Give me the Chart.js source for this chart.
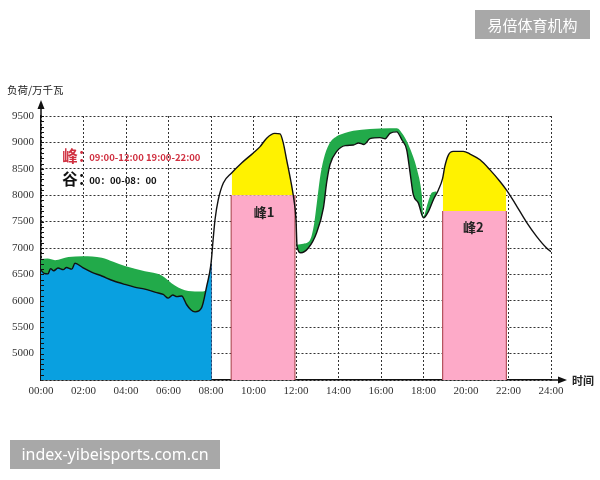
<!DOCTYPE html>
<html>
<head>
<meta charset="utf-8">
<script src="https://cdn.jsdelivr.net/npm/chart.js@4/dist/chart.umd.min.js"></script>
<style>
  html, body { margin: 0; padding: 0; background: #fff; }
  #wrap { width: 600px; height: 480px; position: relative; }
</style>
</head>
<body>
<div id="wrap"><canvas id="loadCanvas"></canvas></div>
<script>
// load curve, hours -> 万千瓦
const hours = [0, 0.15, 0.33, 0.45, 0.6, 0.8, 1.05, 1.2, 1.45, 1.6, 1.96, 2.4, 2.86, 3.4, 3.95, 4.4, 4.89, 5.4, 5.75, 5.99,
  6.2, 6.4, 6.62, 6.85, 7.05, 7.25, 7.56, 7.8, 8.0, 8.1, 8.19, 8.34, 8.58, 8.97, 9.44, 9.99, 10.31, 10.62, 11.0, 11.25,
  11.4, 11.56, 11.8, 11.9, 12.0, 12.05, 12.23, 12.58, 12.97, 13.29, 13.45, 13.6, 13.92, 14.31, 14.7, 14.94, 15.2, 15.48,
  15.95, 16.2, 16.42, 16.74, 16.98, 17.21, 17.36, 17.52, 17.76, 18.0, 18.23, 18.47, 18.7, 18.9, 19.0, 19.17, 19.4, 19.87,
  20.19, 20.66, 21.13, 21.6, 21.9, 22.3, 22.86, 23.32, 23.79, 24.0];
const load = [6580, 6520, 6510, 6610, 6570, 6620, 6590, 6630, 6600, 6710, 6630, 6540, 6470, 6380, 6310, 6260, 6220, 6160, 6120, 6050,
  6110, 6080, 6090, 5930, 5830, 5790, 5870, 6280, 6700, 7160, 7540, 7910, 8230, 8420, 8610, 8800, 8920, 9080, 9170, 9160,
  8990, 8670, 8170, 7920, 7540, 7030, 6910, 7000, 7290, 7760, 8260, 8580, 8830, 8940, 8950, 8990, 8960, 9070,
  9090, 9070, 9170, 9200, 9050, 8860, 8450, 8010, 7850, 7570, 7690, 7920, 8100, 8320, 8540, 8760, 8830, 8830,
  8780, 8670, 8480, 8260, 8100, 7850, 7480, 7220, 7000, 6930];

// green band above the curve in the valley hours
const valleyTopHours = [0, 0.3, 0.66, 1.29, 1.96, 2.86, 3.4, 3.95, 4.89, 5.68, 6.3, 6.93, 7.56, 7.85];
const valleyTop = [6790, 6800, 6770, 6830, 6845, 6815, 6740, 6660, 6560, 6480, 6290, 6185, 6175, 6200];

// green band above the curve in the afternoon
const dayTopHours = [12.05, 12.35, 12.66, 12.85, 12.98, 13.12, 13.3, 13.55, 13.9, 14.3, 14.7, 15.48, 16.42, 16.74, 17.05, 17.36,
  17.68, 17.92, 18.0, 18.2, 18.4, 18.62];
const dayTop = [7060, 7080, 7150, 7450, 7850, 8300, 8680, 8960, 9110, 9180, 9220, 9255, 9270, 9270, 9140, 8890,
  8510, 8010, 7600, 7850, 8050, 8070];

const valleyEnd = 8;
const peakStart = [8.95, 18.9];
const peakEnd = [11.95, 21.9];
const peakBase = [8000, 7700];
const peakNames = ["峰1", "峰2"];
const peakLabelX = [10.5, 20.35];
const peakLabelY = [7680, 7390];

const xTickLabels = ["00:00", "02:00", "04:00", "06:00", "08:00", "10:00", "12:00", "14:00", "16:00", "18:00", "20:00", "22:00", "24:00"];
const yMin = 4500, yMax = 9500, yStep = 500;

const toPoints = (xs, ys) => xs.map((x, i) => ({ x: x, y: ys[i] }));
const loadPts = toPoints(hours, load);
const valleyPts = loadPts.filter(p => p.x <= valleyEnd);

const datasets = [
  { // 0: black load line
    data: loadPts, borderColor: "#111", borderWidth: 1.4, fill: false,
    cubicInterpolationMode: "monotone", order: 0
  },
  { // blue valley area
    data: valleyPts, borderWidth: 0, backgroundColor: "#09a0e0", fill: "start",
    cubicInterpolationMode: "monotone", order: 1
  },
  { // blue right edge
    data: [{ x: valleyEnd, y: yMin }, { x: valleyEnd, y: valleyPts[valleyPts.length - 1].y }],
    borderColor: "#1b4f8c", borderWidth: 1.5, fill: false, order: 1
  },
  { // green above valley
    data: toPoints(valleyTopHours, valleyTop), borderWidth: 0, backgroundColor: "#22aa4a",
    fill: "start", cubicInterpolationMode: "monotone", order: 2
  },
  { // green band afternoon, filled to the load line
    data: toPoints(dayTopHours, dayTop), borderWidth: 0, backgroundColor: "#22aa4a",
    fill: { target: 0, above: "#22aa4a", below: "#22aa4a" },
    cubicInterpolationMode: "monotone", order: 2
  }
];

peakStart.forEach((s, i) => {
  const e = peakEnd[i];
  datasets.push({ // yellow above base
    data: loadPts.filter(p => p.x >= s && p.x <= e), borderWidth: 0,
    fill: { target: { value: peakBase[i] }, above: "#fff200", below: "rgba(0,0,0,0)" },
    cubicInterpolationMode: "monotone", order: 3
  });
  datasets.push({ // pink block
    data: [{ x: s, y: yMin }, { x: s, y: peakBase[i] }, { x: e, y: peakBase[i] }, { x: e, y: yMin }],
    backgroundColor: "#fdaac8", borderColor: "#b4505c", borderWidth: 1.2, fill: "start",
    segment: { borderColor: c => c.p0.parsed.y === c.p1.parsed.y ? "rgba(0,0,0,0)" : undefined },
    order: 4
  });
});

const decor = {
  id: "decor",
  afterDraw(chart) {
    const { ctx, chartArea: a, scales: { x, y } } = chart;
    ctx.save();
    // minor ticks on y axis
    ctx.strokeStyle = "#111";
    ctx.lineWidth = 1;
    for (let v = yMin + 100; v <= yMax; v += 100) {
      const py = Math.round(y.getPixelForValue(v)) + 0.5;
      ctx.beginPath();
      ctx.moveTo(a.left, py);
      ctx.lineTo(a.left + 3, py);
      ctx.stroke();
    }
    // y axis arrow
    ctx.lineWidth = 1.5;
    ctx.beginPath();
    ctx.moveTo(a.left, a.top);
    ctx.lineTo(a.left, a.top - 8);
    ctx.stroke();
    ctx.fillStyle = "#111";
    ctx.beginPath();
    ctx.moveTo(a.left, a.top - 16);
    ctx.lineTo(a.left - 3.5, a.top - 7);
    ctx.lineTo(a.left + 3.5, a.top - 7);
    ctx.closePath();
    ctx.fill();
    // x axis arrow
    ctx.beginPath();
    ctx.moveTo(a.right, a.bottom);
    ctx.lineTo(a.right + 8, a.bottom);
    ctx.stroke();
    ctx.beginPath();
    ctx.moveTo(a.right + 16, a.bottom);
    ctx.lineTo(a.right + 7, a.bottom - 3.5);
    ctx.lineTo(a.right + 7, a.bottom + 3.5);
    ctx.closePath();
    ctx.fill();

    // axis titles
    ctx.fillStyle = "#222";
    ctx.textBaseline = "middle";
    ctx.textAlign = "left";
    ctx.font = "10.5px 'Noto Sans CJK SC'";
    ctx.fillText("负荷/万千瓦", 7, 90);
    ctx.font = "bold 11px 'Noto Sans CJK SC'";
    ctx.fillText("时间", a.right + 21, a.bottom + 1);

    // peak / valley legend text
    const tx = x.getPixelForValue(1);
    ctx.fillStyle = "#d03040";
    ctx.font = "bold 15.5px 'Noto Sans CJK SC'";
    ctx.fillText("峰：", tx, 156);
    ctx.font = "bold 9.5px 'Noto Sans CJK SC'";
    ctx.fillText("09:00-12:00 19:00-22:00", tx + 27, 157);
    ctx.fillStyle = "#111";
    ctx.font = "bold 15.5px 'Noto Sans CJK SC'";
    ctx.fillText("谷：", tx, 179);
    ctx.font = "bold 9.5px 'Noto Sans CJK SC'";
    ctx.fillText("00：00-08：00", tx + 27, 180);

    // peak names
    ctx.textAlign = "center";
    ctx.fillStyle = "#222";
    ctx.font = "bold 13px 'Noto Sans CJK SC'";
    peakNames.forEach((n, i) => {
      ctx.fillText(n, x.getPixelForValue(peakLabelX[i]), y.getPixelForValue(peakLabelY[i]));
    });

    // watermark boxes
    ctx.fillStyle = "#a8a8a8";
    ctx.fillRect(475, 10, 115, 29);
    ctx.fillRect(10, 440, 210, 29);
    ctx.fillStyle = "#fff";
    ctx.font = "15px 'Noto Sans CJK SC'";
    ctx.fillText("易倍体育机构", 532.5, 25);
    ctx.font = "16px 'Noto Sans'";
    ctx.fillText("index-yibeisports.com.cn", 115, 455);
    ctx.restore();
  }
};

new Chart(document.getElementById("loadCanvas").getContext("2d"), {
  type: "line",
  data: { datasets: datasets },
  options: {
    responsive: true,
    maintainAspectRatio: false,
    animation: false,
    layout: { padding: { top: 116, right: 49, bottom: 70, left: 0 } },
    elements: { point: { radius: 0, hoverRadius: 0 } },
    plugins: { legend: { display: false }, tooltip: { enabled: false } },
    scales: {
      x: {
        type: "linear", min: 0, max: 24,
        afterFit: s => { s.height = 30; },
        ticks: {
          stepSize: 2, autoSkip: false, maxRotation: 0, padding: 5, color: "#333",
          font: { family: "'Liberation Serif'", size: 11 },
          callback: v => xTickLabels[v / 2]
        },
        grid: { color: "#333", lineWidth: 1, drawTicks: false },
        border: { color: "#111", width: 1.5, dash: [2, 2] }
      },
      y: {
        min: yMin, max: yMax,
        afterFit: s => { s.width = 41; },
        ticks: {
          stepSize: yStep, padding: 7, color: "#333",
          font: { family: "'Liberation Serif'", size: 11 },
          callback: v => v === yMin ? "" : v
        },
        grid: { color: "#333", lineWidth: 1, drawTicks: false },
        border: { color: "#111", width: 1.5, dash: [2, 2] }
      }
    }
  },
  plugins: [decor]
});
</script>
</body>
</html>
